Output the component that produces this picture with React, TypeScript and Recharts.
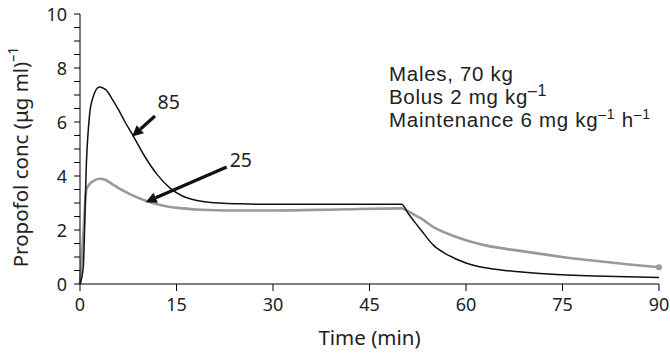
import { LineChart, Line, XAxis, YAxis, ReferenceLine, ReferenceDot, Label } from 'recharts';

const time = [0, 0.5, 1, 1.5, 2, 3, 4, 5, 6, 7, 8, 10, 12, 14, 16, 18, 20, 25, 30, 40, 50, 51, 52, 53, 55, 57, 60, 63, 66, 70, 75, 80, 85, 90];
const age85 = [0, 0.6, 4.5, 6.3, 6.9, 7.3, 7.2, 6.85, 6.45, 6.0, 5.6, 4.75, 4.05, 3.55, 3.25, 3.1, 3.03, 2.97, 2.95, 2.95, 2.95, 2.62, 2.3, 2.0, 1.42, 1.1, 0.78, 0.6, 0.5, 0.42, 0.34, 0.3, 0.27, 0.24];
const age25 = [0, 1.8, 3.5, 3.7, 3.8, 3.9, 3.85, 3.7, 3.55, 3.42, 3.3, 3.1, 2.95, 2.85, 2.8, 2.76, 2.74, 2.72, 2.72, 2.76, 2.8, 2.7, 2.56, 2.43, 2.1, 1.88, 1.62, 1.43, 1.31, 1.17, 1.0, 0.86, 0.73, 0.62];

const xTicks = [0, 15, 30, 45, 60, 75, 90];
const yTicks = [0, 0.5, 1, 1.5, 2, 2.5, 3, 3.5, 4, 4.5, 5, 5.5, 6, 6.5, 7, 7.5, 8, 8.5, 9, 9.5, 10];

// arrows: [tail, tip] in data units, plus label position
const arrows = [
  { label: '85', tail: { x: 11.65, y: 6.22 }, tip: { x: 8.1, y: 5.46 }, at: { x: 13.8, y: 6.74 } },
  { label: '25', tail: { x: 22.8, y: 4.33 }, tip: { x: 10.2, y: 3.03 }, at: { x: 25.0, y: 4.59 } },
];

const data = time.map((t, i) => ({ t, a85: age85[i], a25: age25[i] }));

const FONT = '"Noto Sans", sans-serif';
const NOTE_FONT = '"Liberation Sans", Arial, sans-serif';
const INK = '#222';

function XTick({ x, y, payload }: any) {
  return (
    <g>
      <line x1={x} x2={x} y1={y} y2={y + 7} stroke="#000" strokeWidth={1} />
      <text x={x} y={y + 27} textAnchor="middle" fontSize={18} fontFamily={FONT} fill={INK}>
        {payload.value}
      </text>
    </g>
  );
}

function YTick({ x, y, payload }: any) {
  const v = payload.value;
  const major = v % 2 === 0;
  return (
    <g>
      <line x1={x - 6} x2={x} y1={y} y2={y} stroke="#000" strokeWidth={1} />
      {major && (
        <text x={x - 13} y={y + 6.5} textAnchor="end" fontSize={18} fontFamily={FONT} fill={INK}>
          {v}
        </text>
      )}
    </g>
  );
}

function Arrow({ x1, y1, x2, y2 }: any) {
  const dx = x2 - x1;
  const dy = y2 - y1;
  const len = Math.hypot(dx, dy);
  const ux = dx / len;
  const uy = dy / len;
  const hl = 11;
  const hw = 5.5;
  const bx = x2 - ux * hl;
  const by = y2 - uy * hl;
  return (
    <g>
      <line x1={x1} y1={y1} x2={bx} y2={by} stroke="#111" strokeWidth={3.2} />
      <polygon
        points={`${x2},${y2} ${bx - uy * hw},${by + ux * hw} ${bx + uy * hw},${by - ux * hw}`}
        fill="#111"
      />
    </g>
  );
}

function endDot(props: any) {
  const { cx, cy, index } = props;
  if (index !== time.length - 1) return <g key={index} />;
  return <circle key={index} cx={cx} cy={cy} r={3} fill="#999" />;
}

function YLabel() {
  const cx = 20;
  const cy = 157;
  return (
    <text
      x={cx}
      y={cy}
      transform={`rotate(-90, ${cx}, ${cy})`}
      textAnchor="middle"
      dominantBaseline="central"
      fontSize={20.5}
      fontFamily={FONT}
      fill={INK}
    >
      Propofol conc (μg ml)
      <tspan fontSize={14} dy={-8}>–1</tspan>
    </text>
  );
}

export default function App() {
  return (
    <div style={{ position: 'absolute', left: 0, top: 0, width: 670, height: 354, background: '#fff' }}>
      <LineChart width={670} height={354} data={data} margin={{ top: 14, right: 11, left: 0, bottom: 0 }}>
        <XAxis
          dataKey="t"
          type="number"
          domain={[0, 90]}
          ticks={xTicks}
          tick={<XTick />}
          tickLine={false}
          tickSize={0}
          tickMargin={0}
          axisLine={{ stroke: '#000', strokeWidth: 1 }}
          height={70}
          interval={0}
        >
          <Label value="Time (min)" position="insideBottom" offset={9} fontSize={20.5} fontFamily={FONT} fill={INK} />
        </XAxis>
        <YAxis
          type="number"
          domain={[0, 10]}
          ticks={yTicks}
          tick={<YTick />}
          tickLine={false}
          tickSize={0}
          tickMargin={0}
          axisLine={{ stroke: '#000', strokeWidth: 1 }}
          width={80}
          interval={0}
        >
          <Label content={<YLabel />} />
        </YAxis>
        <Line
          type="monotone"
          dataKey="a25"
          stroke="#999"
          strokeWidth={2.6}
          dot={endDot}
          isAnimationActive={false}
        />
        <Line
          type="monotone"
          dataKey="a85"
          stroke="#111"
          strokeWidth={1.5}
          dot={false}
          isAnimationActive={false}
        />
        {arrows.map((a) => (
          <ReferenceLine
            key={'l' + a.label}
            segment={[a.tail, a.tip]}
            ifOverflow="visible"
            shape={(p: any) => <Arrow x1={p.x1} y1={p.y1} x2={p.x2} y2={p.y2} />}
          />
        ))}
        {arrows.map((a) => (
          <ReferenceDot
            key={'d' + a.label}
            x={a.at.x}
            y={a.at.y}
            ifOverflow="visible"
            shape={(p: any) => (
              <text x={p.cx} y={p.cy + 7} textAnchor="middle" fontSize={19.5} fontFamily={FONT} fill={INK}>
                {a.label}
              </text>
            )}
          />
        ))}
      </LineChart>
      <div
        style={{
          position: 'absolute',
          left: 389,
          top: 62,
          fontFamily: NOTE_FONT,
          fontSize: 20.5,
          lineHeight: '23px',
          letterSpacing: 0.7,
          color: INK,
          whiteSpace: 'nowrap',
        }}
      >
        <div>Males, 70 kg</div>
        <div>
          Bolus 2 mg kg<sup style={{ fontSize: 16, lineHeight: 0 }}>–1</sup>
        </div>
        <div>
          Maintenance 6 mg kg<sup style={{ fontSize: 14, lineHeight: 0 }}>–1</sup> h<sup style={{ fontSize: 14, lineHeight: 0 }}>–1</sup>
        </div>
      </div>
    </div>
  );
}
